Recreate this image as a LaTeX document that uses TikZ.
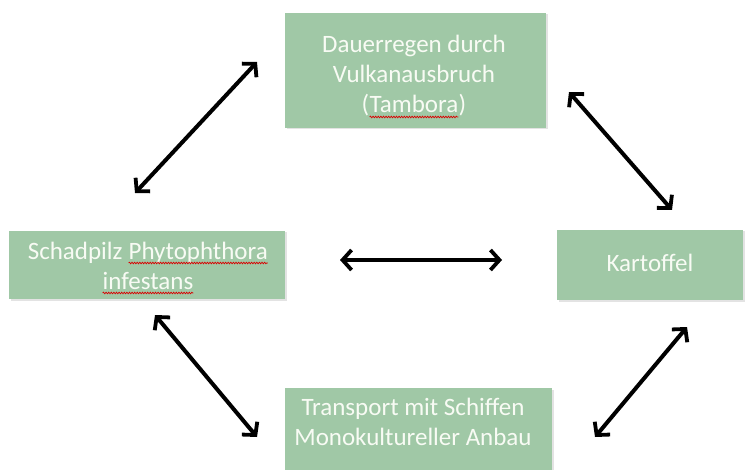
\documentclass[tikz,border=0pt]{standalone}
\usepackage{fontspec}
\setmainfont{Carlito}
\usetikzlibrary{arrows.meta,shadows,decorations.pathmorphing}
\definecolor{boxgreen}{HTML}{A0C8A6}
\definecolor{boxtext}{HTML}{F8FBF4}
\newcommand\spellerr[1]{\tikz[baseline=(sw.base)]{\node[inner sep=0pt,outer sep=0pt](sw){#1};\draw[draw=red!85!black,line width=0.7pt,decorate,decoration={snake,amplitude=0.8pt,segment length=2.6pt}]([yshift=-4pt]sw.base west)--([yshift=-4pt]sw.base east);}}
\tikzset{
  greenbox/.style={rectangle,fill=boxgreen,draw=none,inner sep=0pt,
    drop shadow={opacity=0.22,shadow xshift=1.5pt,shadow yshift=-1.5pt}},
  boxlabel/.style={text=boxtext,font=\fontsize{25}{30}\selectfont,align=center,inner sep=0pt,anchor=base},
  dblarrow/.style={line width=4pt,line cap=round,
    {Straight Barb[length=9pt,width=20pt,line width=3.8pt]}-{Straight Barb[length=9pt,width=20pt,line width=3.8pt]}}
}
\begin{document}
\begin{tikzpicture}[x=1pt,y=-1pt]
\useasboundingbox (0,0) rectangle (749,470);
% boxes
\node[greenbox,minimum width=261pt,minimum height=115pt] (top) at (415.5,70.5) {};
\node[greenbox,minimum width=276pt,minimum height=68pt] (left) at (147,265) {};
\node[greenbox,minimum width=186pt,minimum height=70pt] (right) at (650,265) {};
\node[greenbox,minimum width=267pt,minimum height=86pt] (bottom) at (418.5,431) {};
% labels (anchor base = baseline of the last line)
\node[boxlabel] (toptext) at (414,113) {Dauerregen durch\\Vulkanausbruch\\(\spellerr{Tambora})};
\node[boxlabel] (lefttext) at (148,289) {Schadpilz \spellerr{Phytophthora}\\\spellerr{infestans}};
\node[boxlabel] (righttext) at (650,272) {Kartoffel};
\node[boxlabel] (bottomtext) at (413,445) {Transport mit Schiffen\\Monokultureller Anbau};
% arrow ends
\coordinate (a1s) at (135,193); \coordinate (a1e) at (257,62);
\coordinate (a2s) at (569,92);  \coordinate (a2e) at (672,210);
\coordinate (a3s) at (340,260); \coordinate (a3e) at (502,260);
\coordinate (a4s) at (155,315); \coordinate (a4e) at (257,437);
\coordinate (a5s) at (687,327); \coordinate (a5e) at (595,437);
\draw[dblarrow] (a1s) -- (a1e);
\draw[dblarrow] (a2s) -- (a2e);
\draw[dblarrow] (a3s) -- (a3e);
\draw[dblarrow] (a4s) -- (a4e);
\draw[dblarrow] (a5s) -- (a5e);
\end{tikzpicture}
\end{document}
